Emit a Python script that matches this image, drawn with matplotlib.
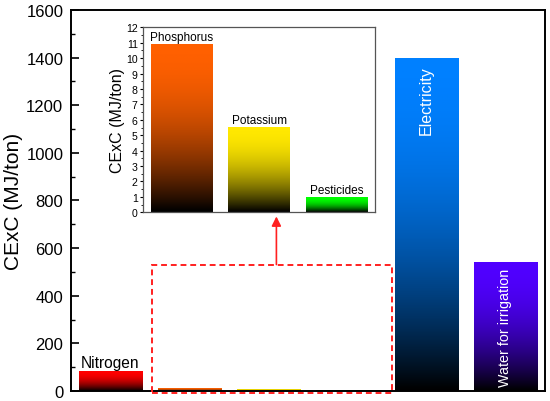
import matplotlib
matplotlib.use("Agg")
import matplotlib.pyplot as plt
from matplotlib.colors import LinearSegmentedColormap
from matplotlib.patches import Rectangle
from matplotlib.ticker import MultipleLocator
import numpy as np

plt.rcParams['font.family'] = ['Liberation Sans', 'DejaVu Sans']

# main chart
items = ["Nitrogen", "Phosphorus", "Potassium", "Pesticides", "Electricity", "Water for irrigation"]
values = [81, 10.85, 5.47, 0.91, 1395, 538]
colors = ["#ff0000", "#ff6000", "#ffe800", "#00ff00", "#0080ff", "#5000ff"]

# inset (zoom on the small inputs)
inset_items = ["Phosphorus", "Potassium", "Pesticides"]
inset_values = [10.85, 5.47, 0.91]
inset_colors = ["#ff6000", "#ffe800", "#00ff00"]

# black at the bottom, colour holds on longer near the top
t = np.linspace(0, 1, 256)
grad = (1 - (1 - t) ** 2).reshape(-1, 1)


def gradient_bars(ax, xs, heights, cols, width=0.8):
    for x, h, c in zip(xs, heights, cols):
        cmap = LinearSegmentedColormap.from_list("g", ["#000000", c])
        ax.imshow(grad, cmap=cmap, origin="lower", aspect="auto", vmin=0, vmax=1,
                  extent=(x - width / 2, x + width / 2, 0, h), zorder=2)


fig = plt.figure(figsize=(5.5, 4.02), dpi=100)
ax = fig.add_axes([0.1291, 0.0249, 0.8618, 0.9478])

x = np.arange(len(items))
gradient_bars(ax, x, values, colors)
ax.set_xlim(-0.5, 5.5)
ax.set_ylim(0, 1600)
ax.set_xticks([])
ax.yaxis.set_major_locator(MultipleLocator(200))
ax.yaxis.set_minor_locator(MultipleLocator(100))
ax.tick_params(axis="y", which="major", direction="in", length=5.5, width=1.2,
               labelsize=12, pad=5.5)
ax.tick_params(axis="y", which="minor", direction="in", length=3, width=1)
for s in ax.spines.values():
    s.set_linewidth(1.4)
ax.set_ylabel("CExC (MJ/ton)", fontsize=15, labelpad=2)

ax.text(x[0], values[0] + 8, items[0], ha="center", va="bottom", fontsize=11.2, zorder=3)
ax.text(x[4], values[4] - 28, items[4], ha="center", va="top", rotation=90,
        color="white", fontsize=11.5, zorder=3)
ax.text(x[5], 22, items[5], ha="center", va="bottom", rotation=90,
        color="white", fontsize=10.3, zorder=3)

# dashed box around the small bars and arrow up to the inset
ax.add_patch(Rectangle((0.525, -8), 3.567 - 0.525, 531 + 8, fill=False,
                       edgecolor="#ff2020", linestyle=(0, (3, 2)), linewidth=1.4,
                       clip_on=False, zorder=4))
ax.annotate("", xy=(2.1, 733), xytext=(2.1, 531),
            arrowprops=dict(arrowstyle="-|>", color="#ff2020", lw=1.2,
                            mutation_scale=14, shrinkA=0, shrinkB=0))

# inset
ins = fig.add_axes([0.2606, 0.4694, 0.4213, 0.4602])
xi = np.arange(len(inset_items))
gradient_bars(ins, xi, inset_values, inset_colors)
ins.set_xlim(-0.5, 2.5)
ins.set_ylim(0, 12)
ins.set_xticks([])
ins.yaxis.set_major_locator(MultipleLocator(1))
ins.yaxis.set_minor_locator(MultipleLocator(0.5))
ins.tick_params(axis="y", which="major", direction="out", length=2.5, width=0.8,
                labelsize=7.6, pad=1.5)
ins.tick_params(axis="y", which="minor", direction="out", length=1.3, width=0.6)
for s in ins.spines.values():
    s.set_color("#555555")
    s.set_linewidth(0.9)
ins.set_ylabel("CExC (MJ/ton)", fontsize=11.5, labelpad=1)
for xx, v, name in zip(xi, inset_values, inset_items):
    ins.text(xx, v + 0.12, name, ha="center", va="bottom", fontsize=8.5, zorder=3)

fig.savefig("out.png", dpi=100)
